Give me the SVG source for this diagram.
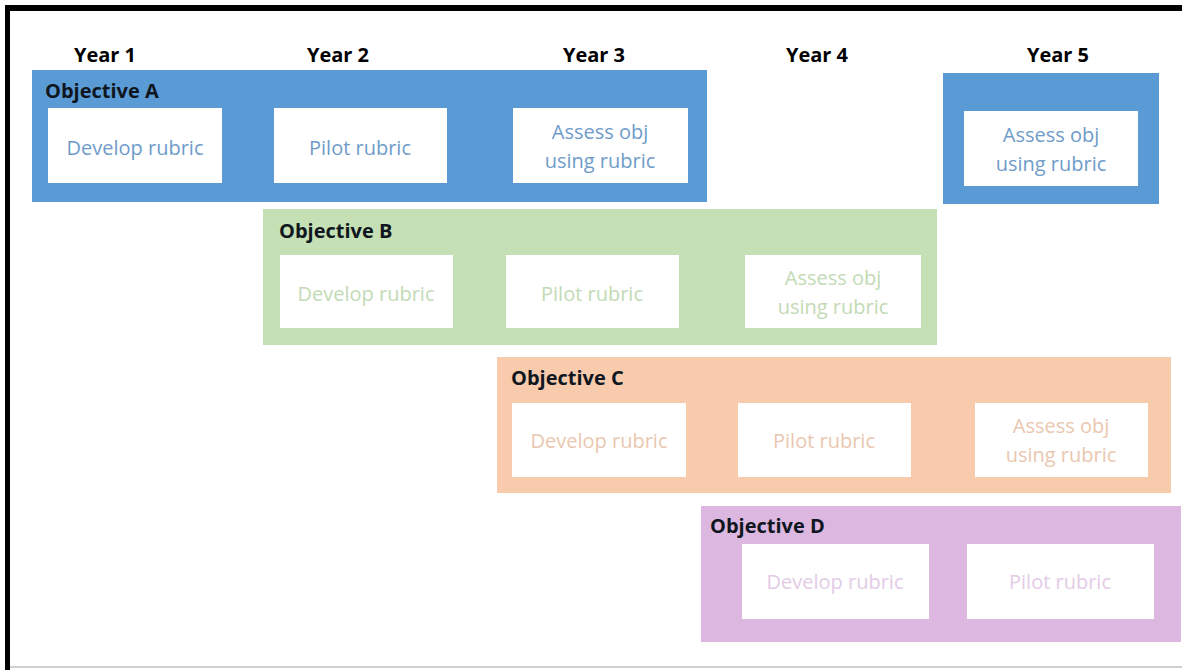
<svg xmlns="http://www.w3.org/2000/svg" width="1182" height="670" viewBox="0 0 1182 670">
<style>
.yr{font-family:"Open Sans","Liberation Sans",sans-serif;font-weight:bold;font-size:20px;fill:#000;text-anchor:middle}
.ttl{font-family:"Open Sans","Liberation Sans",sans-serif;font-weight:bold;font-size:20px;fill:#0f1620}
.inner{fill:#fff}
.t{font-family:"Open Sans","Liberation Sans",sans-serif;font-size:20px;text-anchor:middle}
.ta{fill:#6f9cc9}.tb{fill:#c3dab6}.tc{fill:#eac7b0}.td{fill:#e3cbe6}
</style>
<rect x="0" y="0" width="1182" height="670" fill="#fff"/>
<rect x="5" y="5" width="1177" height="6" fill="#000"/>
<rect x="5" y="5" width="5" height="665" fill="#000"/>
<rect x="10" y="666" width="1172" height="2" fill="#d0d0d0"/>
<g id="years">
<text class="yr" x="105" y="62">Year 1</text>
<text class="yr" x="338" y="62">Year 2</text>
<text class="yr" x="594" y="62">Year 3</text>
<text class="yr" x="817" y="62">Year 4</text>
<text class="yr" x="1058" y="62">Year 5</text>
</g>
<g id="objA">
<rect x="32" y="70" width="675" height="132" fill="#5b9bd5"/>
<text class="ttl" x="45" y="98">Objective A</text>
<rect class="inner" x="48" y="108" width="174" height="75"/>
<text class="t ta" x="135" y="155">Develop rubric</text>
<rect class="inner" x="274" y="108" width="173" height="75"/>
<text class="t ta" x="360" y="155">Pilot rubric</text>
<rect class="inner" x="513" y="108" width="175" height="75"/>
<text class="t ta" x="600" y="139">Assess obj</text>
<text class="t ta" x="600" y="168">using rubric</text>
</g>
<g id="objA5">
<rect x="943" y="73" width="216" height="131" fill="#5b9bd5"/>
<rect class="inner" x="964" y="111" width="174" height="75"/>
<text class="t ta" x="1051" y="142">Assess obj</text>
<text class="t ta" x="1051" y="171">using rubric</text>
</g>
<g id="objB">
<rect x="263" y="209" width="674" height="136" fill="#c5e0b4"/>
<text class="ttl" x="279" y="238">Objective B</text>
<rect class="inner" x="280" y="255" width="173" height="73"/>
<text class="t tb" x="366" y="301">Develop rubric</text>
<rect class="inner" x="506" y="255" width="173" height="73"/>
<text class="t tb" x="592" y="301">Pilot rubric</text>
<rect class="inner" x="745" y="255" width="176" height="73"/>
<text class="t tb" x="833" y="285">Assess obj</text>
<text class="t tb" x="833" y="314">using rubric</text>
</g>
<g id="objC">
<rect x="497" y="357" width="674" height="136" fill="#f8cbad"/>
<text class="ttl" x="511" y="385">Objective C</text>
<rect class="inner" x="512" y="403" width="174" height="74"/>
<text class="t tc" x="599" y="448">Develop rubric</text>
<rect class="inner" x="738" y="403" width="173" height="74"/>
<text class="t tc" x="824" y="448">Pilot rubric</text>
<rect class="inner" x="975" y="403" width="173" height="74"/>
<text class="t tc" x="1061" y="433">Assess obj</text>
<text class="t tc" x="1061" y="462">using rubric</text>
</g>
<g id="objD">
<rect x="701" y="506" width="480" height="136" fill="#dcb8e0"/>
<text class="ttl" x="710" y="533">Objective D</text>
<rect class="inner" x="742" y="544" width="187" height="75"/>
<text class="t td" x="835" y="589">Develop rubric</text>
<rect class="inner" x="967" y="544" width="187" height="75"/>
<text class="t td" x="1060" y="589">Pilot rubric</text>
</g>
<g id="connectors"/>
</svg>
